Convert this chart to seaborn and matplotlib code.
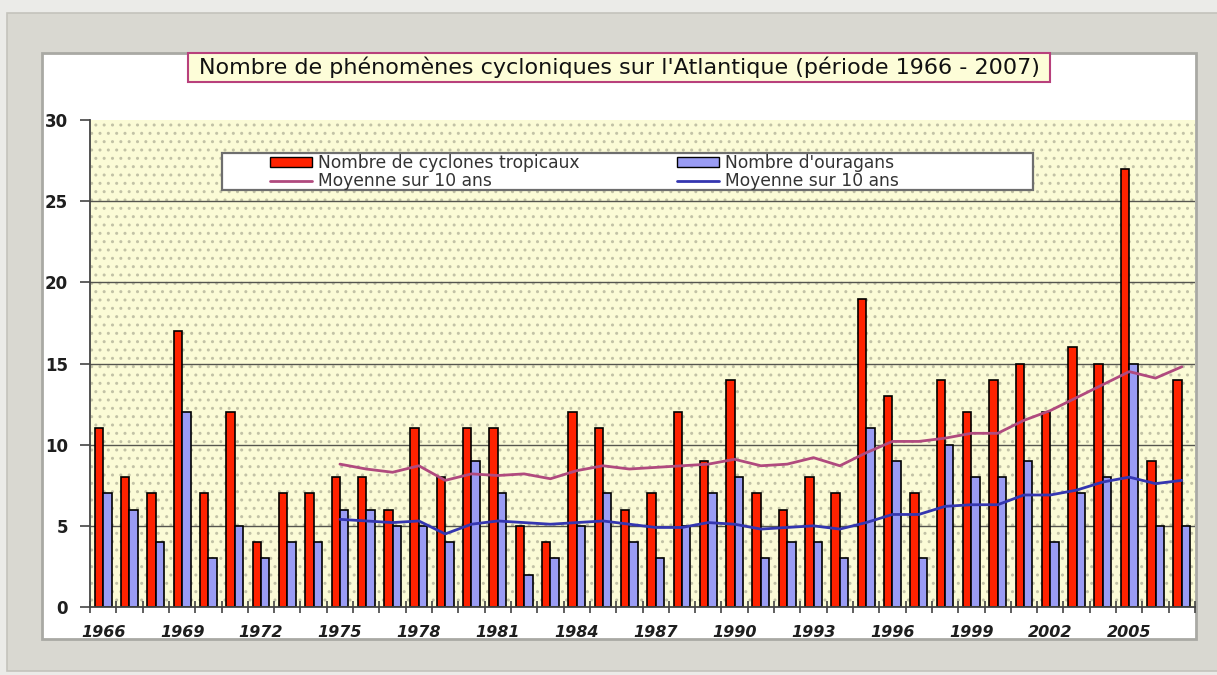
import matplotlib
matplotlib.use("Agg")
import matplotlib.pyplot as plt
import pandas as pd
import seaborn as sns
from matplotlib.patches import Rectangle, Patch
from matplotlib.lines import Line2D

# Données annuelles (Atlantique nord)
annees = list(range(1966, 2008))
cyclones = [11, 8, 7, 17, 7, 12, 4, 7, 7, 8,
            8, 6, 11, 8, 11, 11, 5, 4, 12, 11,
            6, 7, 12, 9, 14, 7, 6, 8, 7, 19,
            13, 7, 14, 12, 14, 15, 12, 16, 15, 27,
            9, 14]
ouragans = [7, 6, 4, 12, 3, 5, 3, 4, 4, 6,
            6, 5, 5, 4, 9, 7, 2, 3, 5, 7,
            4, 3, 5, 7, 8, 3, 4, 4, 3, 11,
            9, 3, 10, 8, 8, 9, 4, 7, 8, 15,
            5, 5]

# Moyennes glissantes sur 10 ans (1975 - 2007)
annees_moy = list(range(1975, 2008))
moy_cyclones = [8.8, 8.5, 8.3, 8.7, 7.8, 8.2, 8.1, 8.2, 7.9, 8.4, 8.7,
                8.5, 8.6, 8.7, 8.8, 9.1, 8.7, 8.8, 9.2, 8.7, 9.5, 10.2,
                10.2, 10.4, 10.7, 10.7, 11.5, 12.1, 12.9, 13.7, 14.5, 14.1, 14.8]
moy_ouragans = [5.4, 5.3, 5.2, 5.3, 4.5, 5.1, 5.3, 5.2, 5.1, 5.2, 5.3,
                5.1, 4.9, 4.9, 5.2, 5.1, 4.8, 4.9, 5.0, 4.8, 5.2, 5.7,
                5.7, 6.2, 6.3, 6.3, 6.9, 6.9, 7.2, 7.7, 8.0, 7.6, 7.8]

lbl_cyc = "Nombre de cyclones tropicaux"
lbl_our = "Nombre d'ouragans"
lbl_moy = "Moyenne sur 10 ans"
titre = "Nombre de phénomènes cycloniques sur l'Atlantique (période 1966 - 2007)"

ROUGE = "#ff2200"
BLEU = "#9a9cf4"
ROSE = "#b04a7e"
BLEU_FONCE = "#3436b0"

sns.set_theme(style="white")
plt.rcParams["font.family"] = ["DejaVu Sans"]

W, H = 1217, 675
fig = plt.figure(figsize=(W / 100, H / 100), dpi=100, facecolor="#ebebe8")


def px_rect(x0, y0, x1, y1, **kw):
    """Rectangle given in pixel coordinates measured from the top-left."""
    return Rectangle((x0 / W, 1 - y1 / H), (x1 - x0) / W, (y1 - y0) / H,
                     transform=fig.transFigure, figure=fig, **kw)


# Cadre gris et panneau blanc (sous les axes)
fig.patches.append(px_rect(7, 13, 1225, 671, facecolor="#d9d8d1",
                           edgecolor="#c4c3bc", linewidth=1.2, zorder=-3))
fig.patches.append(px_rect(42, 53, 1196, 639, facecolor="white",
                           edgecolor="#a9a9a4", linewidth=2.0, zorder=-2))

ax = fig.add_axes([90 / W, 1 - 607 / H, 1105 / W, 487 / H])
ax.set_facecolor("#fbfbd6")

# Fond pointillé de la zone de tracé
ax.add_patch(Rectangle((0, 0), 1, 1, transform=ax.transAxes, facecolor="#fbfbd6",
                       edgecolor="#c2c2a6", hatch="..", linewidth=0, zorder=0.2))

df = pd.DataFrame({
    "annee": [str(a) for a in annees] * 2,
    "valeur": cyclones + ouragans,
    "serie": [lbl_cyc] * len(annees) + [lbl_our] * len(annees),
})
sns.barplot(data=df, x="annee", y="valeur", hue="serie",
            order=[str(a) for a in annees], hue_order=[lbl_cyc, lbl_our],
            palette=[ROUGE, BLEU], saturation=1, width=0.64,
            edgecolor="black", linewidth=1.2, legend=False, ax=ax, zorder=2)

pos_moy = [annees.index(a) for a in annees_moy]
sns.lineplot(x=pos_moy, y=moy_cyclones, color=ROSE, linewidth=2.0, ax=ax, zorder=3)
sns.lineplot(x=pos_moy, y=moy_ouragans, color=BLEU_FONCE, linewidth=2.0, ax=ax, zorder=3)

ax.set_xlim(-0.5, len(annees) - 0.5)
ax.set_ylim(0, 30)
ax.set_xlabel("")
ax.set_ylabel("")

# Grille horizontale
ax.set_axisbelow(True)
for v in [5, 10, 15, 20, 25]:
    ax.axhline(v, color="#55554f", linewidth=1.0, zorder=0.5)

for s in ["top", "right"]:
    ax.spines[s].set_visible(False)
for s in ["left", "bottom"]:
    ax.spines[s].set_color("#444444")
    ax.spines[s].set_linewidth(1.3)

ax.set_yticks([0, 5, 10, 15, 20, 25, 30])
ax.set_yticklabels(["0", "5", "10", "15", "20", "25", "30"],
                   fontsize=12, fontweight="bold", color="#1e1e1e")
ax.tick_params(axis="y", direction="out", length=7, width=1.2, color="#444444", pad=9, left=True)

maj = list(range(0, len(annees), 3))
ax.set_xticks(maj)
ax.set_xticklabels([str(annees[i]) for i in maj], fontsize=11.5, fontweight="bold",
                   fontstyle="italic", color="#1e1e1e")
ax.set_xticks([i - 0.5 for i in range(len(annees) + 1)], minor=True)
ax.tick_params(axis="x", which="major", length=0, pad=13)
ax.tick_params(axis="x", which="minor", direction="inout", length=8, width=1.2,
               color="#444444", bottom=True)

# Légende
fig.patches.append(px_rect(222, 153, 1033, 190, facecolor="white",
                           edgecolor="#6e6e6e", linewidth=1.6, zorder=5))
handles = [Patch(facecolor=ROUGE, edgecolor="black", linewidth=1.0),
           Line2D([], [], color=ROSE, linewidth=2.0),
           Patch(facecolor=BLEU, edgecolor="black", linewidth=1.0),
           Line2D([], [], color=BLEU_FONCE, linewidth=2.0)]
labels = [lbl_cyc, lbl_moy, lbl_our, lbl_moy]
leg = fig.legend(handles, labels, ncol=2, frameon=False, loc="upper left",
                 bbox_to_anchor=(270 / W, 1 - 154 / H), bbox_transform=fig.transFigure,
                 borderpad=0, borderaxespad=0, handlelength=2.46, handleheight=0.45,
                 handletextpad=0.35, columnspacing=5.7, labelspacing=0.02,
                 prop={"family": "DejaVu Sans", "size": 12.3})
for t in leg.get_texts():
    t.set_color("#333333")
leg.set_zorder(6)

# Titre encadré
fig.patches.append(px_rect(188, 53, 1050, 82, facecolor="#fdfdd8",
                           edgecolor="#b8407c", linewidth=1.5, zorder=5))
fig.text(619 / W, 1 - 67.5 / H, titre, ha="center", va="center",
         fontsize=16, color="#111111", zorder=6)

fig.savefig("out.png", dpi=100, facecolor=fig.get_facecolor())
